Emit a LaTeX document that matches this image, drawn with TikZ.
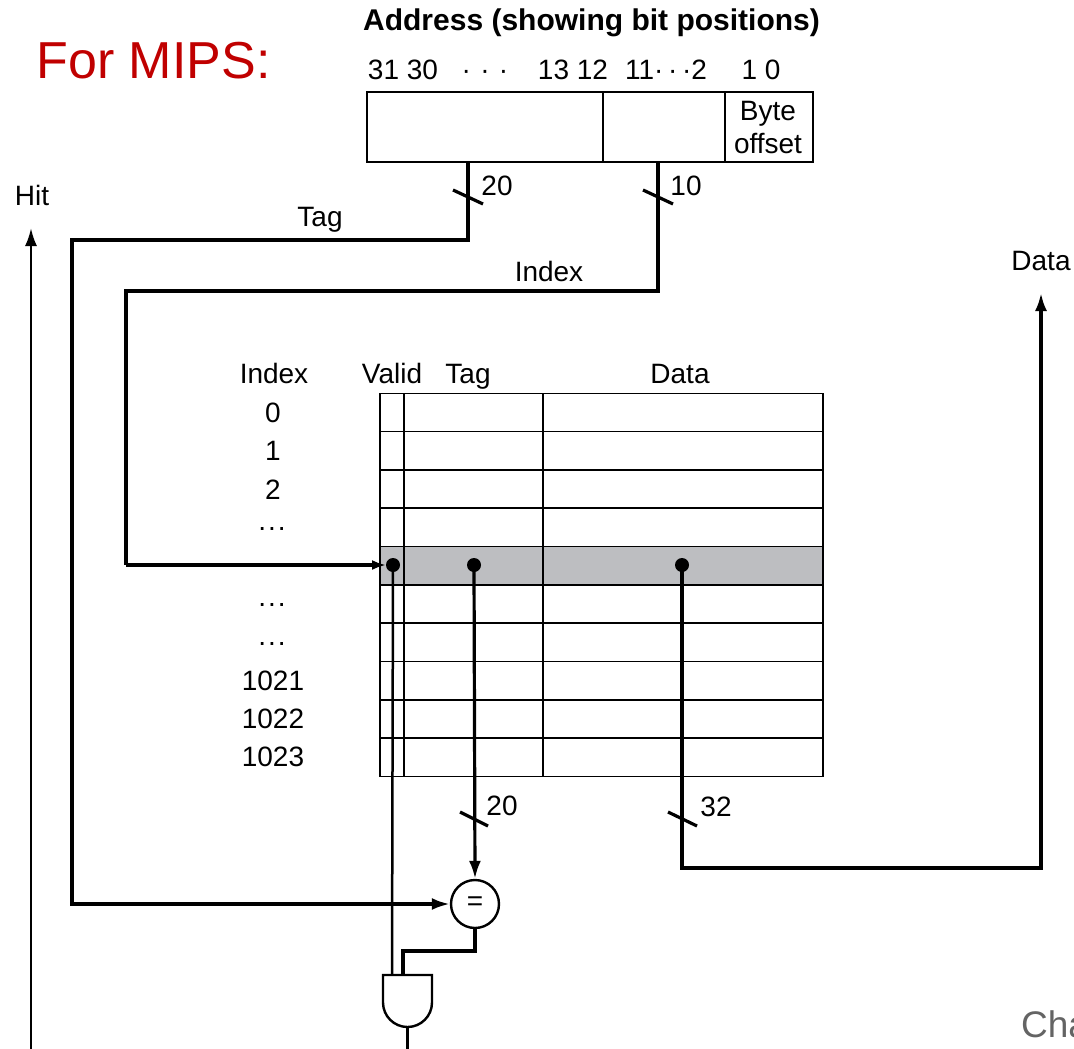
\documentclass[tikz,border=0pt]{standalone}
\usepackage{fontspec}
\setmainfont{Liberation Sans}
\usetikzlibrary{arrows.meta}
\definecolor{mipsred}{RGB}{192,0,0}
\definecolor{rowgray}{RGB}{189,190,193}
\definecolor{chagray}{RGB}{100,100,100}
\begin{document}
\begin{tikzpicture}[x=1pt,y=-1pt,
  txt/.style={font=\fontsize{28}{30}\selectfont, inner sep=0pt, anchor=base},
  bus/.style={line width=3.2pt},
  thinw/.style={line width=2.5pt},
  grid/.style={line width=1.6pt},
  arr/.style={-{Latex[length=18pt,width=12pt]}},
  dotn/.style={circle, fill=black, inner sep=0pt, minimum size=14pt},
  cell/.style={draw, line width=1.8pt, anchor=north west, inner sep=0pt}]
\useasboundingbox (0,0) rectangle (1074,1049);

% Title texts
\node[txt, font=\fontsize{52}{56}\selectfont, text=mipsred] (mips) at (153.5,79) {For MIPS:};
\node[txt, font=\bfseries\fontsize{30}{32}\selectfont] (addrtitle) at (591.5,31) {Address (showing bit positions)};
\node[txt] (b1) at (403,80) {31 30};
\node[txt] (b2) at (485,80) {·\,\,·\,\,·};
\node[txt] (b3) at (573,80) {13 12};
\node[txt] (b4) at (666,80) {11·\,·\,·2};
\node[txt] (b5) at (761,80) {1 0};

% Address box
\node[cell, minimum width=236pt, minimum height=70pt] (atag) at (366,91) {};
\node[cell, minimum width=122pt, minimum height=70pt] (aidx) at (602,91) {};
\node[cell, minimum width=88pt, minimum height=70pt] (aoff) at (724,91) {};
\node[txt] (byte) at (768,120) {Byte};
\node[txt] (offset) at (768,153) {offset};

% wire coordinates
\coordinate (tagout) at (468,161);
\coordinate (idxout) at (658,161);
\coordinate (t1) at (468,240);
\coordinate (t2) at (72,240);
\coordinate (t3) at (72,904);
\coordinate (i1) at (658,291);
\coordinate (i2) at (126,291);
\coordinate (i3) at (126,565);

% Labels on wires
\node[txt] (taglbl) at (320,226) {Tag};
\node[txt] (idxlbl) at (549,281) {Index};
\node[txt] (n20a) at (497,195) {20};
\node[txt] (n10) at (686,195) {10};
\node[txt] (hitlbl) at (32,205) {Hit};
\node[txt] (datalbl) at (1041,270) {Data};

% Table headers
\node[txt] (hIndex) at (274,383) {Index};
\node[txt] (hValid) at (392,383) {Valid};
\node[txt] (hTag) at (468,383) {Tag};
\node[txt] (hData) at (680,383) {Data};

% Index numbers
\node[txt] (r0) at (273,422) {0};
\node[txt] (r1) at (273,460) {1};
\node[txt] (r2) at (273,499) {2};
\node[txt] (r3) at (272,530) {.\hspace{2pt}.\hspace{2pt}.};
\node[txt] (r5) at (272,606) {.\hspace{2pt}.\hspace{2pt}.};
\node[txt] (r6) at (272,645) {.\hspace{2pt}.\hspace{2pt}.};
\node[txt] (r7) at (273,690) {1021};
\node[txt] (r8) at (273,728) {1022};
\node[txt] (r9) at (273,766) {1023};

% highlighted row
\node[fill=rowgray, inner sep=0pt, minimum width=443pt, minimum height=38.33pt, anchor=north west] (hl) at (380,546.67) {};

% table grid
\foreach \i in {0,...,10} {
  \draw[grid] (380,{393.3+38.33*\i}) -- (823,{393.3+38.33*\i});
}
\draw[grid] (380,393.3) -- (380,776.7);
\draw[grid] (404,393.3) -- (404,776.7);
\draw[grid] (543,393.3) -- (543,776.7);
\draw[grid] (823,393.3) -- (823,776.7);

% dots
\node[dotn] (vdot) at (393,565) {};
\node[dotn] (tdot) at (474,565) {};
\node[dotn] (ddot) at (682,565) {};

% comparator
\node[circle, draw, line width=2.4pt, minimum size=48pt, inner sep=0pt, font=\fontsize{28}{30}\selectfont] (eq) at (475,904) {=};

% AND gate
\draw[line width=2.4pt] (383,975) -- (432,975) -- (432,1002.5) arc (0:180:24.5) -- cycle;
\coordinate (andA) at (392,975);
\coordinate (andB) at (403,975);
\coordinate (andOut) at (407.5,1027);
\coordinate (bottomOut) at (407.5,1049);
\draw[thinw] (andOut) -- (bottomOut);

% Tag wire
\draw[bus, arr] (tagout) -- (t1) -- (t2) -- (t3) -- (eq.west);
\draw[bus] (453,190) -- (483,204);

% Index wire
\draw[bus] (idxout) -- (i1) -- (i2) -- (i3);
\draw[bus, -{Latex[length=14pt,width=10pt]}] (i3) -- (386,565);
\draw[bus] (643,190) -- (673,204);

% Valid wire
\draw[thinw] (vdot.center) -- (andA);

% Tag from cache to comparator
\draw[bus, arr] (tdot.center) -- (eq.north);
\draw[bus] (460,812) -- (488,826);
\node[txt] (n20b) at (502,815) {20};

% comparator to AND
\coordinate (e1) at (475,951);
\coordinate (e2) at (403,951);
\draw[bus] (eq.south) -- (e1) -- (e2) -- (andB);

% Data wire
\coordinate (d1) at (682,868);
\coordinate (d2) at (1041,868);
\coordinate (dtop) at (1041,293);
\draw[bus, arr] (ddot.center) -- (d1) -- (d2) -- (dtop);
\draw[bus] (668,812) -- (697,826);
\node[txt] (n32) at (716,816) {32};

% Hit arrow
\coordinate (hitbot) at (31,1049);
\coordinate (hittop) at (31,228);
\draw[thinw, arr] (hitbot) -- (hittop);

% bottom-right cut text (cut by the page edge, as in the reference)
\node[txt, anchor=base west, font=\fontsize{37}{40}\selectfont, text=chagray] (cha) at (1021,1037) {Cha};
\end{tikzpicture}
\end{document}
